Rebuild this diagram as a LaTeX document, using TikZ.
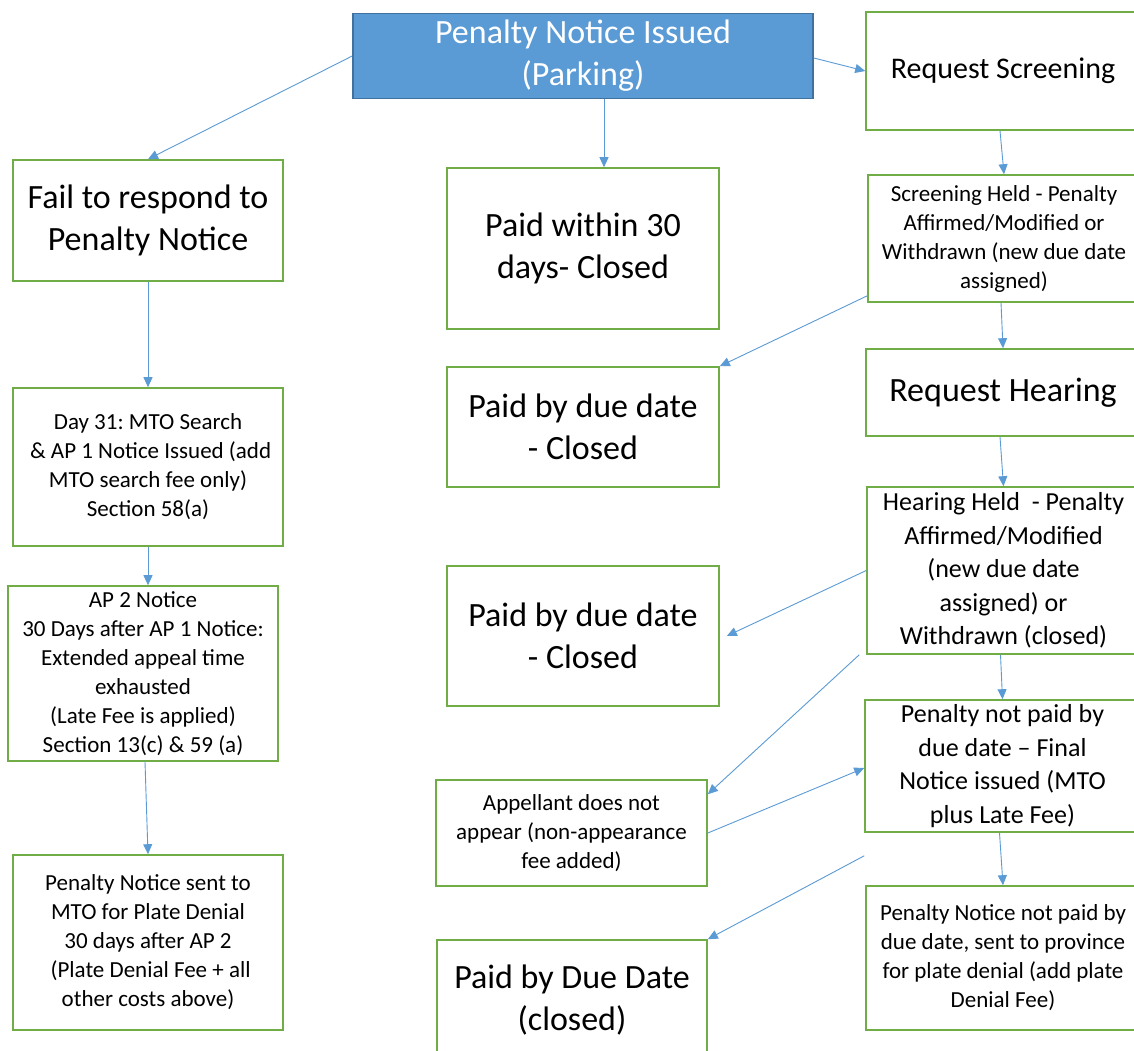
\documentclass[tikz,border=0pt]{standalone}
\usepackage{fontspec}
\setmainfont{Carlito}
\usetikzlibrary{arrows.meta}
\definecolor{boxgreen}{HTML}{70AD47}
\definecolor{lineblue}{HTML}{5B9BD5}
\definecolor{topblue}{HTML}{5B9BD5}
\definecolor{topedge}{HTML}{41719C}
\frenchspacing
\begin{document}
\begin{tikzpicture}[x=1pt,y=-1pt,
box/.style={draw=boxgreen,line width=1.6pt,align=center,inner sep=0pt},
big/.style={font=\fontsize{34}{42}\selectfont},
mid/.style={font=\fontsize{26}{33.5}\selectfont},
small/.style={font=\fontsize{23}{29}\selectfont},
arr/.style={draw=lineblue,line width=0.9pt,-{Triangle[length=10pt,width=9pt]}}]
\path[use as bounding box,clip] (0,0) rectangle (1134,1050);
\fill[white] (0,0) rectangle (1134,1050);
\node[box,big,fill=topblue,draw=topedge,text=white,minimum width=460pt,minimum height=85pt] (issued) at (583,56) {Penalty Notice Issued\\(Parking)};
\node[box,font=\fontsize{30}{37}\selectfont,minimum width=274pt,minimum height=118pt] (screen) at (1003,71) {Request Screening};
\node[box,big,minimum width=270pt,minimum height=121pt] (fail) at (148,220.5) {Fail to respond to\\Penalty Notice};
\node[box,big,minimum width=272pt,minimum height=161pt] (paid30) at (583,248.5) {Paid within 30\\days- Closed};
\node[box,small,minimum width=272pt,minimum height=127pt] (scrheld) at (1004,238.5) {Screening Held - Penalty\\Affirmed/Modified or\\Withdrawn (new due date\\assigned)};
\node[box,big,minimum width=272pt,minimum height=120pt] (paiddue1) at (583,427) {Paid by due date\\- Closed};
\node[box,big,minimum width=274pt,minimum height=87pt] (hearreq) at (1003,392.5) {Request Hearing};
\node[box,small,minimum width=270pt,minimum height=158pt] (day31) at (148,467) {Day 31: MTO Search\\\ \& AP 1 Notice Issued (add\\MTO search fee only)\\Section 58(a)};
\node[box,mid,minimum width=273pt,minimum height=167pt] (hearheld) at (1003.5,570.5) {Hearing Held\ \ - Penalty\\Affirmed/Modified\\(new due date\\assigned) or\\Withdrawn (closed)};
\node[box,small,minimum width=270pt,minimum height=175pt] (ap2) at (143,673.5) {AP 2 Notice\\30 Days after AP 1 Notice:\\Extended appeal time\\exhausted\\(Late Fee is applied)\\Section 13(c) \& 59 (a)};
\node[box,big,minimum width=272pt,minimum height=140pt] (paiddue2) at (583,636) {Paid by due date\\- Closed};
\node[box,mid,minimum width=275pt,minimum height=132pt] (notpaid) at (1002.5,766) {Penalty not paid by\\due date – Final\\Notice issued (MTO\\plus Late Fee)};
\node[box,small,minimum width=271pt,minimum height=106pt] (appellant) at (571.5,833) {Appellant does not\\appear (non-appearance\\fee added)};
\node[box,small,minimum width=270pt,minimum height=175pt] (sentmto) at (148,942.5) {Penalty Notice sent to\\MTO for Plate Denial\\30 days after AP 2\\\ (Plate Denial Fee + all\\other costs above)};
\node[box,small,minimum width=274pt,minimum height=144pt] (province) at (1003,958) {Penalty Notice not paid by\\due date, sent to province\\for plate denial (add plate\\Denial Fee)};
\node[box,big,minimum width=270pt,minimum height=120pt] (paiddd) at (572,1000) {Paid by Due Date\\(closed)};
\draw[arr] (issued.west) -- (fail.north);
\draw[arr] ([xshift=21pt]issued.south) -- ([xshift=21pt]paid30.north);
\draw[arr] ([yshift=-2pt]issued.east) -- (screen.west);
\draw[arr] (fail.south) -- (day31.north);
\draw[arr] (day31.south) -- (day31.south |- ap2.north);
\draw[arr] ([xshift=2pt]ap2.south) -- (sentmto.north);
\draw[arr] ([xshift=-3pt]screen.south) -- (scrheld.north);
\draw[arr] ([xshift=-3pt]scrheld.south) -- (hearreq.north);
\draw[arr] ([yshift=7pt]scrheld.south west) -- (paiddue1.north east);
\draw[arr] ([xshift=-3pt]hearreq.south) -- (hearheld.north);
\draw[arr] (hearheld.west) -- ([xshift=7pt]paiddue2.east);
\draw[arr] ([xshift=-7pt]hearheld.south west) -- ([yshift=-15pt]appellant.north east);
\draw[arr] ([xshift=-3pt]hearheld.south) -- (notpaid.north);
\draw[arr] (appellant.east) -- ([yshift=-2pt]notpaid.west);
\draw[arr] ([xshift=-3pt]notpaid.south) -- (province.north);
\draw[arr] ([yshift=-23pt]notpaid.south west) -- (paiddd.north east);
\end{tikzpicture}
\end{document}
